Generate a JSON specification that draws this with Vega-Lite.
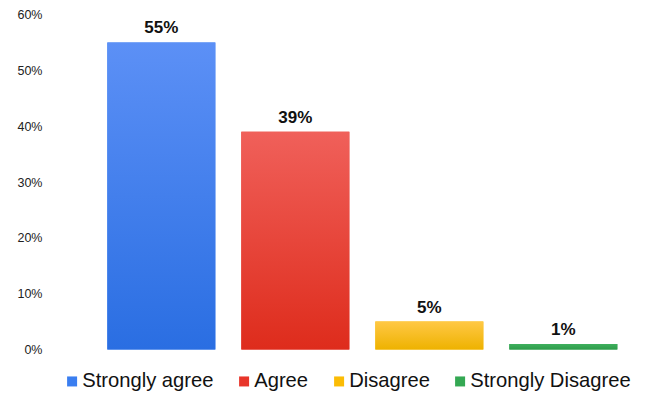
{
  "$schema": "https://vega.github.io/schema/vega-lite/v6.json",
  "width": 597,
  "height": 335,
  "autosize": {"type": "none"},
  "padding": {"left": 50, "top": 14.5, "right": 0, "bottom": 44.5},
  "background": "white",
  "config": {"view": {"stroke": null}, "font": "Liberation Sans"},
  "data": {
    "values": [
      {"response": "Strongly agree", "pct": 0.55},
      {"response": "Agree", "pct": 0.39},
      {"response": "Disagree", "pct": 0.05},
      {"response": "Strongly Disagree", "pct": 0.01}
    ]
  },
  "encoding": {
    "x": {
      "field": "response",
      "type": "nominal",
      "sort": null,
      "axis": null,
      "scale": {"paddingInner": 0.194, "paddingOuter": 0.3246, "align": 0.659}
    },
    "y": {
      "field": "pct",
      "type": "quantitative",
      "scale": {"domain": [0, 0.6], "nice": false},
      "axis": {
        "format": ".0%",
        "values": [0, 0.1, 0.2, 0.3, 0.4, 0.5, 0.6],
        "domain": false,
        "ticks": false,
        "grid": false,
        "labelFontSize": 12.5,
        "labelColor": "#222222",
        "labelPadding": 8,
        "title": null
      }
    }
  },
  "layer": [
    {
      "mark": {"type": "bar"},
      "encoding": {
        "color": {
          "field": "response",
          "type": "nominal",
          "scale": {
            "domain": ["Strongly agree", "Agree", "Disagree", "Strongly Disagree"],
            "range": ["#3a7ef0", "#e8352a", "#fbbc05", "#34a853"]
          },
          "legend": {
            "orient": "none",
            "legendX": 12,
            "legendY": 356.5,
            "direction": "horizontal",
            "title": null,
            "symbolType": "square",
            "symbolSize": 100,
            "symbolStrokeWidth": 0,
            "symbolOpacity": 1,
            "labelFontSize": 20.2,
            "labelOffset": 0,
            "columnPadding": 20,
            "labelColor": "#111111",
            "labelLimit": 300
          }
        }
      }
    },
    {
      "mark": {"type": "bar"},
      "encoding": {
        "fill": {
          "condition": [
            {"test": "datum.response === 'Strongly agree'", "value": {"gradient": "linear", "x1": 0, "y1": 0, "x2": 0, "y2": 1, "stops": [{"offset": 0, "color": "#5c90f6"}, {"offset": 1, "color": "#2a6ee2"}]}},
            {"test": "datum.response === 'Agree'", "value": {"gradient": "linear", "x1": 0, "y1": 0, "x2": 0, "y2": 1, "stops": [{"offset": 0, "color": "#f0605a"}, {"offset": 1, "color": "#de2c1c"}]}},
            {"test": "datum.response === 'Disagree'", "value": {"gradient": "linear", "x1": 0, "y1": 0, "x2": 0, "y2": 1, "stops": [{"offset": 0, "color": "#ffc845"}, {"offset": 1, "color": "#eeb200"}]}}
          ],
          "value": {"gradient": "linear", "x1": 0, "y1": 0, "x2": 0, "y2": 1, "stops": [{"offset": 0, "color": "#3fb05e"}, {"offset": 1, "color": "#2e9c4a"}]}
        }
      }
    },
    {
      "mark": {"type": "text", "dy": -9, "fontWeight": "bold", "fontSize": 17, "baseline": "alphabetic", "color": "#111111"},
      "encoding": {
        "text": {"field": "pct", "type": "quantitative", "format": ".0%"}
      }
    }
  ]
}
